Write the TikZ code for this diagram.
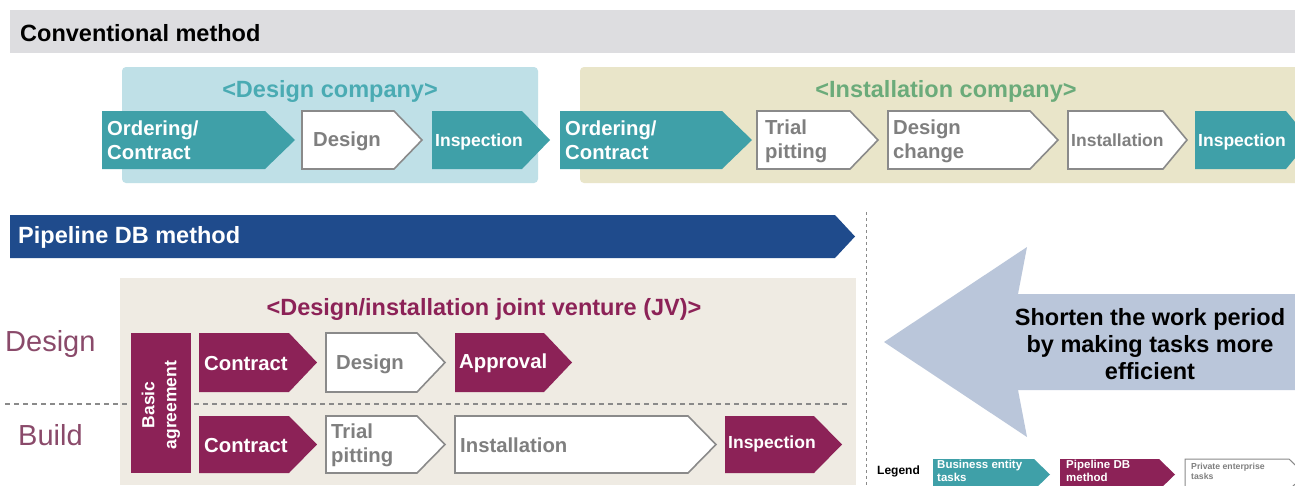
\documentclass[tikz,border=0pt]{standalone}
\usepackage{fontspec}
\setmainfont{Liberation Sans}
\definecolor{teal1}{HTML}{3FA0A8}
\definecolor{tealtitle}{HTML}{4AABB3}
\definecolor{maroon1}{HTML}{8C2257}
\definecolor{dblue}{HTML}{1F4B8C}
\definecolor{graybar}{HTML}{DDDDE0}
\definecolor{bluebox}{HTML}{BFE0E7}
\definecolor{beigebox}{HTML}{E9E5C9}
\definecolor{jvbox}{HTML}{EFEBE3}
\definecolor{greentitle}{HTML}{6BAB7A}
\definecolor{bigarrow}{HTML}{BAC6DA}
\definecolor{wborder}{HTML}{8A8A8A}
\definecolor{gtext}{HTML}{7F7F7F}
\definecolor{rowlbl}{HTML}{8A4A6A}
\newcommand\chevbox[6]{%
  \path[#6] (#1,#2) -- (#3-#5,#2) -- (#3,{(#2+#4)/2}) -- (#3-#5,#4) -- (#1,#4) -- cycle;}
\tikzset{
  tealchev/.style={fill=teal1},
  marchev/.style={fill=maroon1},
  whitechev/.style={fill=white, draw=wborder, line width=1.6pt},
  wtxt/.style={text=white, font=\bfseries\fontsize{20.3}{24}\selectfont, align=left, anchor=west, inner sep=0pt},
  gtxt/.style={text=gtext, font=\bfseries\fontsize{20.3}{24}\selectfont, align=left, anchor=west, inner sep=0pt},
  wtxts/.style={text=white, font=\bfseries\fontsize{17.5}{20}\selectfont, align=left, anchor=west, inner sep=0pt},
  gtxts/.style={text=gtext, font=\bfseries\fontsize{17.5}{20}\selectfont, align=left, anchor=west, inner sep=0pt},
  titletxt/.style={font=\bfseries\fontsize{23.5}{27}\selectfont},
}
\begin{document}
\begin{tikzpicture}[x=1pt,y=-1pt]
\useasboundingbox (0,0) rectangle (1295,485);
\fill[white] (0,0) rectangle (1295,485);
% Conventional bar
\fill[graybar] (10,10) rectangle (1295,53);
\node[anchor=west, inner sep=0pt, font=\bfseries\fontsize{23.5}{27}\selectfont] (conv) at (20,33) {Conventional method};
% company boxes
\fill[bluebox, rounded corners=4pt] (122,67) rectangle (538,183);
\fill[beigebox, rounded corners=4pt] (580,67) rectangle (1300,183);
\node[text=tealtitle, titletxt] (dc) at (330,91) {<Design company>};
\node[text=greentitle, titletxt] (ic) at (946,91) {<Installation company>};
% top row chevrons
\chevbox{102}{111}{295}{169}{30}{tealchev}
\chevbox{302}{111}{422}{169}{28}{whitechev}
\chevbox{432}{111}{550}{169}{28}{tealchev}
\chevbox{560}{111}{752}{169}{30}{tealchev}
\chevbox{757}{111}{878}{169}{28}{whitechev}
\chevbox{888}{111}{1058}{169}{28}{whitechev}
\chevbox{1068}{111}{1187}{169}{24}{whitechev}
\chevbox{1195}{111}{1310}{169}{24}{tealchev}
\node[wtxt] (t1) at (107,140) {Ordering/\\Contract};
\node[gtxt] (t2) at (313,141) {Design};
\node[wtxts] (t3) at (435,142) {Inspection};
\node[wtxt] (t4) at (565,140) {Ordering/\\Contract};
\node[gtxt] (t5) at (765,141) {Trial\\pitting};
\node[gtxt] (t6) at (893,141) {Design\\change};
\node[gtxts] (t7) at (1071,140) {Installation};
\node[wtxts] (t8) at (1198,142) {Inspection};
% Pipeline bar
\path[fill=dblue] (10,215) -- (835,215) -- (855,236.5) -- (835,258) -- (10,258) -- cycle;
\node[anchor=west, inner sep=0pt, text=white, font=\bfseries\fontsize{23.5}{27}\selectfont] (pdb) at (18,237) {Pipeline DB method};
% vertical dashed
\draw[wborder, dashed, line width=0.8pt] (866,212) -- (866,485);
% JV box
\fill[jvbox] (120,278) rectangle (856,485);
\node[text=maroon1, titletxt] (jv) at (484,309) {<Design/installation joint venture (JV)>};
% row labels
\node[anchor=west, inner sep=0pt, text=rowlbl, font=\fontsize{29}{32}\selectfont] (ldes) at (5,344) {Design};
\node[anchor=west, inner sep=0pt, text=rowlbl, font=\fontsize{29}{32}\selectfont] (lbld) at (18,435) {Build};
\draw[wborder, dashed, line width=1.2pt, dash pattern=on 5pt off 4pt] (5,404) -- (848,404);
% basic agreement
\fill[maroon1] (131,333) rectangle (191,473);
\node[rotate=90, text=white, font=\bfseries\fontsize{17.5}{22}\selectfont, align=center, inner sep=0pt] (ba) at (161,405) {Basic\\agreement};
% row 1
\chevbox{199}{333}{317}{392}{28}{marchev}
\chevbox{326}{333}{445}{392}{28}{whitechev}
\chevbox{455}{333}{572}{392}{28}{marchev}
\node[wtxt] (r1) at (204,364) {Contract};
\node[gtxt] (r2) at (336,364) {Design};
\node[wtxt] (r3) at (459,363) {Approval};
% row 2
\chevbox{199}{416}{317}{473}{28}{marchev}
\chevbox{326}{416}{445}{473}{28}{whitechev}
\chevbox{455}{416}{716}{473}{28}{whitechev}
\chevbox{725}{416}{842}{473}{28}{marchev}
\node[wtxt] (s1) at (204,446) {Contract};
\node[gtxt] (s2) at (331,445) {Trial\\pitting};
\node[gtxt] (s3) at (460,445) {Installation};
\node[wtxts] (s4) at (728,444) {Inspection};
% big arrow
\path[fill=bigarrow] (884,342) -- (1027,247) -- (1018,294) -- (1300,294) -- (1300,390) -- (1018,390) -- (1027,437) -- cycle;
\node[align=center, font=\bfseries\fontsize{23.5}{27}\selectfont, inner sep=0pt] (short) at (1150,344) {Shorten the work period\\by making tasks more\\efficient};
% legend
\node[anchor=west, inner sep=0pt, font=\bfseries\fontsize{12}{14}\selectfont] (leg) at (877,471) {Legend};
\chevbox{933}{459}{1050}{490}{16}{tealchev}
\chevbox{1060}{459}{1175}{490}{16}{marchev}
\chevbox{1185}{459}{1305}{490}{16}{whitechev, line width=1pt}
\node[anchor=north west, inner sep=0pt, text=white, align=left, font=\bfseries\fontsize{11.5}{13}\selectfont] (lg1) at (937,460) {Business entity\\tasks};
\node[anchor=north west, inner sep=0pt, text=white, align=left, font=\bfseries\fontsize{11.5}{13}\selectfont] (lg2) at (1066,460) {Pipeline DB\\method};
\node[anchor=north west, inner sep=0pt, text=gtext, align=left, font=\bfseries\fontsize{8.7}{10}\selectfont] (lg3) at (1191,463) {Private enterprise\\tasks};
\end{tikzpicture}
\end{document}
